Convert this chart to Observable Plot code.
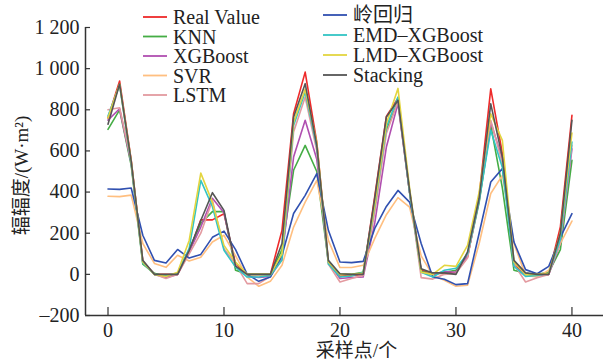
<!DOCTYPE html>
<html>
<head>
<meta charset="utf-8">
<script src="https://cdn.jsdelivr.net/npm/d3@7"></script>
<script src="https://cdn.jsdelivr.net/npm/@observablehq/plot@0.6"></script>
<style>
  html, body { margin: 0; padding: 0; background: #fff; }
  #chart svg { display: block; }
  #chart svg, #chart svg text { font-family: "Liberation Serif", "DejaVu Serif", "Noto Sans CJK SC", serif !important; }
</style>
</head>
<body>
<div id="chart"></div>
<script>
const samples = d3.range(41);
const seriesNames = ["Real Value", "KNN", "XGBoost", "SVR", "LSTM", "岭回归", "EMD–XGBoost", "LMD–XGBoost", "Stacking"];
const seriesColors = ["#ee2a2a", "#45ad45", "#b04fb0", "#ffbf80", "#e39aa0", "#3050b0", "#33c4c4", "#e3d540", "#555555"];
const yTicks = [-200, 0, 200, 400, 600, 800, 1000, 1200];
const xTicks = [0, 10, 20, 30, 40];

const realValue = [760, 940, 555, 65, 0, 0, 0, 110, 265, 265, 295, 50, 0, 0, 0, 214, 781, 983, 643, 60, -10, -5, 0, 380, 768, 856, 400, 20, 5, 5, 10, 84, 380, 902, 588, 50, 0, 0, 0, 230, 773];
const knn = [705, 800, 530, 50, 5, -10, 5, 120, 248, 305, 305, 20, 0, 0, 0, 120, 506, 627, 500, 60, 0, 0, 10, 350, 700, 840, 400, 15, 0, 10, 20, 90, 350, 724, 420, 20, 5, 0, 10, 120, 554];
const xgboost = [750, 805, 540, 60, 0, -15, 0, 110, 230, 370, 300, 40, -10, -15, -10, 80, 570, 749, 560, 60, -20, -15, -13, 250, 619, 830, 400, 10, 0, 14, 10, 90, 360, 741, 560, 40, -5, -5, 0, 150, 610];
const svr = [380, 378, 385, 150, 53, 34, 93, 65, 83, 157, 190, 90, -13, -58, -34, 44, 230, 351, 457, 165, 33, 33, 44, 175, 290, 373, 327, 90, -5, -29, -58, -53, 150, 393, 481, 150, -5, -13, 20, 150, 259];
const lstm = [800, 810, 550, 60, 0, -20, 0, 100, 200, 360, 125, 50, -45, -45, -10, 70, 692, 862, 600, 50, -37, -20, -5, 300, 685, 840, 400, -16, -23, 0, 5, 80, 380, 749, 540, 50, -37, -16, 0, 160, 627];
const ridge = [415, 413, 420, 190, 68, 55, 121, 79, 97, 180, 210, 120, 0, -34, -13, 92, 296, 384, 490, 214, 60, 57, 63, 223, 330, 408, 351, 150, -13, -24, -50, -45, 200, 449, 514, 157, 23, 3, 39, 180, 295];
const emdXgb = [770, 920, 540, 55, 0, -5, 5, 126, 457, 330, 117, 35, -13, -13, -5, 70, 724, 886, 620, 50, -13, -8, 10, 330, 716, 862, 400, 10, -13, 20, 30, 100, 360, 700, 520, 40, -10, -5, 5, 170, 643];
const lmdXgb = [760, 925, 550, 60, 0, -10, 10, 165, 492, 350, 141, 60, 0, 0, 0, 100, 740, 900, 640, 60, 0, 0, 5, 340, 733, 904, 420, 10, 0, 44, 39, 141, 400, 780, 651, 60, 0, 0, 5, 200, 687];
const stacking = [730, 925, 550, 68, 0, 0, 0, 117, 262, 397, 311, 40, 0, 0, 0, 150, 765, 927, 627, 68, 3, 0, 0, 370, 765, 846, 410, 27, 7, 7, 0, 109, 370, 829, 570, 68, 7, 0, 0, 200, 749];

const allSeries = [realValue, knn, xgboost, svr, lstm, ridge, emdXgb, lmdXgb, stacking];
const rows = [];
allSeries.forEach((vals, k) => {
  vals.forEach((v, i) => rows.push({x: samples[i], y: v, series: seriesNames[k]}));
});

const fmtLocale = d3.formatLocale({decimal: ".", thousands: " ", grouping: [3], currency: ["", ""], minus: "–"});
const fmt = fmtLocale.format(",");

const FONT = "'Liberation Serif', 'DejaVu Serif', 'Noto Sans CJK SC', serif";
const xMin = -1.94, xMax = 42.72;

const chart = Plot.plot({
  width: 603,
  height: 363,
  marginLeft: 85,
  marginRight: 0,
  marginTop: 27,
  marginBottom: 48,
  style: {fontFamily: FONT, fontSize: "20px", color: "#222", background: "#fff"},
  x: {domain: [xMin, xMax]},
  y: {domain: [-200, 1200]},
  color: {domain: seriesNames, range: seriesColors},
  marks: [
    Plot.ruleY([-200], {stroke: "#333", strokeWidth: 1.5}),
    Plot.ruleX([xMin], {stroke: "#333", strokeWidth: 1.5}),
    Plot.axisX({ticks: xTicks, tickSize: -8, tickPadding: 15, label: null, stroke: "#333", strokeWidth: 1.2, fontSize: 20}),
    Plot.axisY({ticks: yTicks, tickSize: -5, tickPadding: 11, tickFormat: fmt, label: null, stroke: "#333", strokeWidth: 1.2, fontSize: 20}),
    Plot.line(rows, {x: "x", y: "y", z: "series", stroke: "series", strokeWidth: 1.6, curve: "linear"}),
    Plot.text(["采样点/个"], {frameAnchor: "bottom", dy: 41, dx: 12, fontSize: 19, fill: "#222", textAnchor: "middle"}),
    Plot.text(["辐辐度/(W·m²)"], {frameAnchor: "left", dx: -64, dy: 4, rotate: -90, fontSize: 19, fill: "#222", textAnchor: "middle"})
  ]
});

// Legend (two columns inside the plot area)
const svg = d3.select(chart);
const legendCols = [
  {x0: 143, tx: 173, ys: [17, 36.5, 56, 75.5, 95], idx: [0, 1, 2, 3, 4]},
  {x0: 323, tx: 353, ys: [15, 35, 55, 75], idx: [5, 6, 7, 8]}
];
const lg = svg.append("g").attr("font-size", 20).attr("fill", "#222").attr("text-anchor", "start");
legendCols.forEach(col => {
  col.idx.forEach((k, j) => {
    lg.append("line").attr("x1", col.x0).attr("x2", col.x0 + 24)
      .attr("y1", col.ys[j]).attr("y2", col.ys[j])
      .attr("stroke", seriesColors[k]).attr("stroke-width", 1.8);
    lg.append("text").attr("x", col.tx).attr("y", col.ys[j]).attr("dy", "0.35em")
      .attr("text-anchor", "start")
      .text(seriesNames[k]);
  });
});

document.getElementById("chart").appendChild(chart);
</script>
</body>
</html>
